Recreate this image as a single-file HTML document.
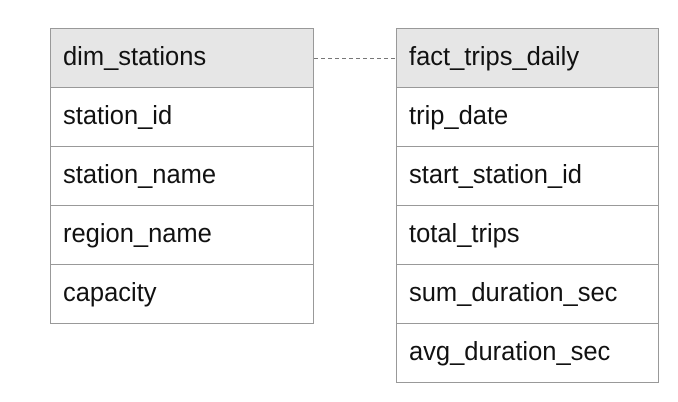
<!DOCTYPE html>
<html><head><style>
body{margin:0;width:678px;height:402px;background:#fff;font-family:"Liberation Sans",Arial,sans-serif;position:relative;overflow:hidden}
.t{position:absolute;border:1px solid #999;box-sizing:border-box}
.r{height:59px;border-top:1px solid #999;box-sizing:border-box;font-size:25.5px;color:#111;padding-left:12px;line-height:56px}
.r:first-child{border-top:none;height:58px;background:#e6e6e6}
</style></head><body>
<div class="t" style="left:50px;top:28px;width:264px">
<div class="r">dim_stations</div><div class="r">station_id</div><div class="r">station_name</div><div class="r">region_name</div><div class="r">capacity</div>
</div>
<div class="t" style="left:396px;top:28px;width:263px">
<div class="r">fact_trips_daily</div><div class="r">trip_date</div><div class="r">start_station_id</div><div class="r">total_trips</div><div class="r">sum_duration_sec</div><div class="r">avg_duration_sec</div>
</div>
<svg style="position:absolute;left:0;top:0" width="678" height="402"><line x1="314" y1="58.5" x2="396" y2="58.5" stroke="#777" stroke-dasharray="4,3"/></svg>
</body></html>
